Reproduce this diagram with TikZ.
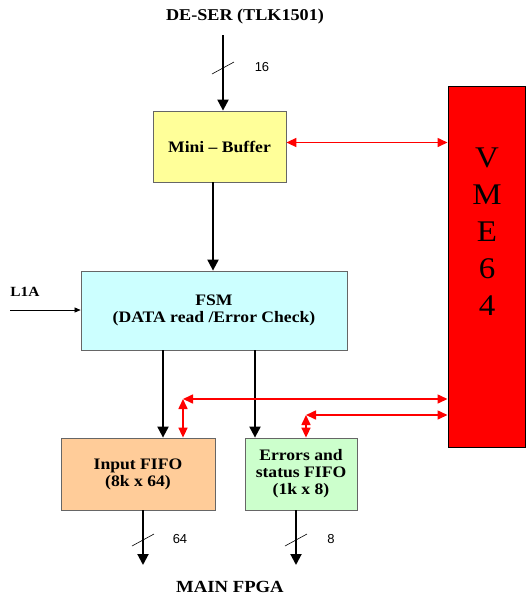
\documentclass[tikz,border=0pt]{standalone}
\usepackage{fontspec}
\setmainfont{Liberation Serif}[FakeStretch=1.1]
\newfontfamily\numfont{Liberation Sans}
\usepackage{xcolor}
\usetikzlibrary{arrows.meta,positioning}

\definecolor{bufyellow}{HTML}{FFFF99}
\definecolor{fsmcyan}{HTML}{CCFFFF}
\definecolor{fifoorange}{HTML}{FFCC99}
\definecolor{errgreen}{HTML}{CCFFCC}
\definecolor{vmered}{HTML}{FF0000}

\newcommand\blockfont{\fontsize{16}{17}\selectfont}
\newcommand\titlefont{\fontsize{16.5}{18}\selectfont}

\begin{document}
\begin{tikzpicture}[
  x=1pt,y=-1pt,
  box/.style={draw=black!60,line width=0.8pt,align=center,font=\blockfont\bfseries,inner sep=0pt},
  bus/.style={-{Triangle[length=11pt,width=11pt]},line width=2pt},
  link/.style={{Triangle[length=10pt,width=9pt]}-{Triangle[length=10pt,width=9pt]},vmered,line width=1.6pt},
  tick/.style={line width=0.6pt},
  buslabel/.style={font=\numfont\fontsize{13}{13}\selectfont}
]
\useasboundingbox (0,0) rectangle (526,595);

% blocks
\node[font=\titlefont\bfseries] (deser) at (245,17) {DE-SER (TLK1501)};
\node[box,fill=bufyellow,minimum width=133pt,minimum height=71pt] (buf) at (219.5,146.5) {Mini -- Buffer};
\node[box,fill=fsmcyan,minimum width=266pt,minimum height=79pt] (fsm) at (214,310.5) {FSM\\(DATA read /Error Check)};
\node[box,fill=fifoorange,minimum width=154pt,minimum height=72pt] (in) at (138,474) {Input FIFO\\(8k x 64)};
\node[box,fill=errgreen,minimum width=112pt,minimum height=72pt] (err) at (301,474) {Errors and\\status FIFO\\(1k x 8)};
\node[draw=black,line width=1pt,fill=vmered,minimum width=77pt,minimum height=361pt,inner sep=0pt] (vme) at (486.5,266.5) {};
\node[anchor=north,align=center,inner sep=0pt,font=\fontsize{30}{37}\selectfont] (vmetxt) at (487,148) {V\\M\\E\\6\\4};
\node[font=\fontsize{14}{14}\selectfont\bfseries] (l1a) at (25,292) {L1A};
\node[font=\fontsize{17}{17}\selectfont\bfseries] (fpga) at (230,587) {MAIN FPGA};

% data path
\coordinate (top) at (223,35);
\draw[bus] (top) -- (top |- buf.north);
\draw[tick] (top) ++(-11,39) -- ++(22,-12);
\node[buslabel] (n16) at (262,67) {16};

\coordinate (c1) at (213,0);
\draw[bus] (buf.south -| c1) -- (fsm.north -| c1);
\coordinate (c2) at (163,0);
\coordinate (c3) at (255,0);
\draw[bus] (fsm.south -| c2) -- (in.north -| c2);
\draw[bus] (fsm.south -| c3) -- (err.north -| c3);

\coordinate (l1in) at (10,310);
\draw[-{Triangle[length=6pt,width=5pt]},line width=0.6pt] (l1in) -- (l1in -| fsm.west);

\coordinate (o1) at (143,565);
\draw[bus] (in.south -| o1) -- (o1);
\draw[tick] (o1) ++(-11,-19) -- ++(22,-12);
\node[buslabel] (n64) at (180,539) {64};
\coordinate (o2) at (296,565);
\draw[bus] (err.south -| o2) -- (o2);
\draw[tick] (o2) ++(-11,-19) -- ++(22,-12);
\node[buslabel] (n8) at (331,539) {8};

% VME links
\draw[link] ([yshift=4pt]buf.east) -- ([yshift=4pt]buf.east -| vme.west);
\coordinate (j1) at (183,399);
\draw[link] (j1) -- (j1 |- in.north);
\draw[link] (j1) -- (j1 -| vme.west);
\coordinate (j2) at (306,415);
\draw[link] (j2) -- (j2 |- err.north);
\draw[link] (j2) -- (j2 -| vme.west);
\end{tikzpicture}
\end{document}
